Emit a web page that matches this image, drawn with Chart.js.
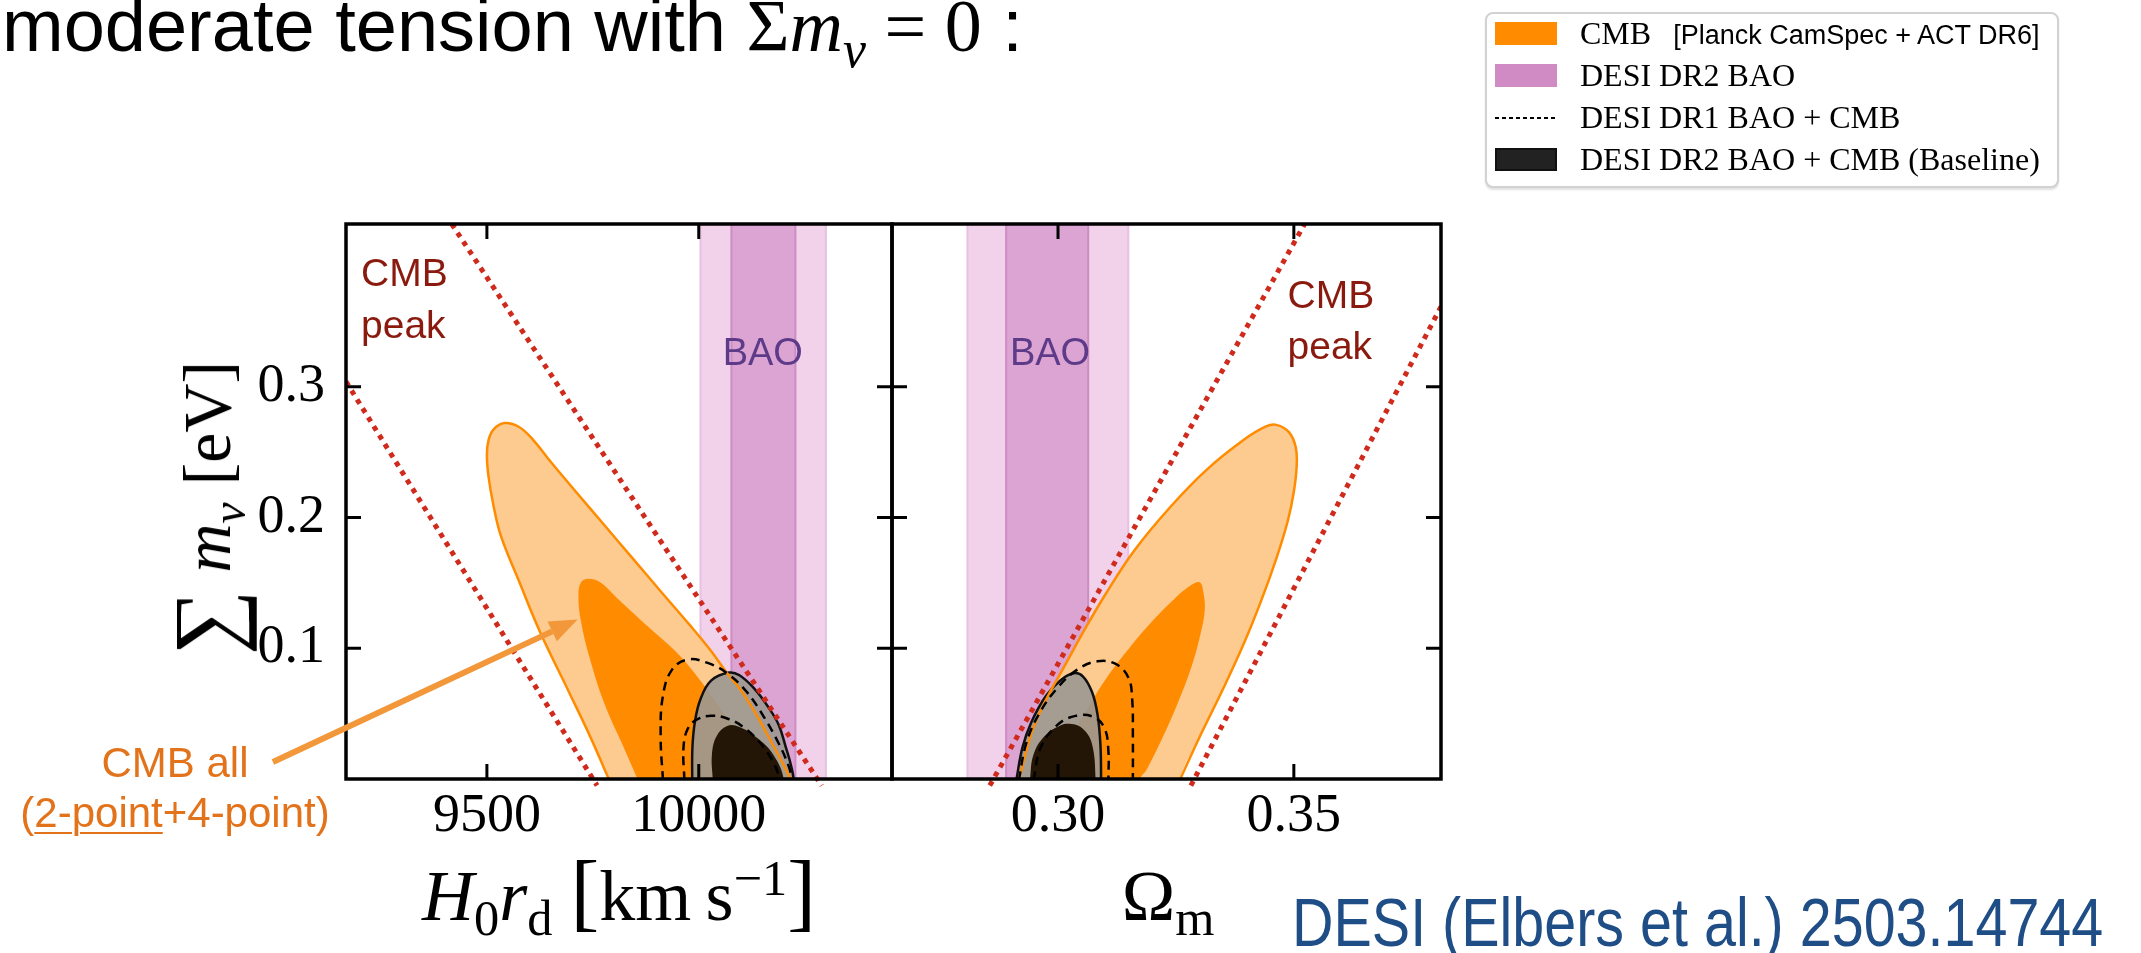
<!DOCTYPE html>
<html>
<head>
<meta charset="utf-8">
<title>Sum of neutrino masses: CMB vs DESI BAO</title>
<script src="https://cdn.jsdelivr.net/npm/chart.js"></script>
<style>
  html, body { margin: 0; padding: 0; background: #fff; }
  #page { position: relative; width: 2141px; height: 953px; overflow: hidden; background: #fff; }
  canvas { position: absolute; left: 0; top: 0; }
  .t { position: absolute; white-space: nowrap; line-height: 1; }
  .cm { font-family: "Liberation Serif", "DejaVu Serif", serif; }
  .sans { font-family: "Liberation Sans", Arial, sans-serif; }
  sub, sup { font-size: 0.7em; line-height: 0; }
  .big { font-size: 1.35em; line-height: 0; vertical-align: -0.08em; }
  #legend { position: absolute; left: 1485px; top: 12px; width: 574px; height: 176px; box-sizing: border-box;
            border: 2px solid #d2d2d2; border-radius: 8px; box-shadow: 0 2px 2px rgba(0,0,0,0.12); background: #fff; }
  .sw { position: absolute; left: 1495px; width: 62px; height: 23px; box-sizing: border-box; }
  .dash { position: absolute; left: 1495px; width: 62px; height: 2px;
          background: repeating-linear-gradient(to right, #000 0 4px, transparent 4px 7px); }
  .note { color: #e3731b; font-size: 42px; transform: translateX(-50%); }
</style>
</head>
<body>
<div id="page">
  <canvas id="left" width="2141" height="953"></canvas>
  <canvas id="right" width="2141" height="953"></canvas>

  <div class="t sans" style="left:2px; top:-11px; font-size:74px;">moderate tension with <span class="cm">Σ<i>m</i><sub><i>ν</i></sub> = 0</span> :</div>

  <!-- legend -->
  <div id="legend"></div>
  <div class="sw" style="top:22px; background:#ff8c00;"></div>
  <div class="t cm" style="left:1580px; top:17px; font-size:32px;">CMB<span class="sans" style="font-size:27px; margin-left:22px;">[Planck CamSpec + ACT DR6]</span></div>
  <div class="sw" style="top:64px; background:#d18bc4;"></div>
  <div class="t cm" style="left:1580px; top:59px; font-size:32px;">DESI DR2 BAO</div>
  <div class="dash" style="top:117px;"></div>
  <div class="t cm" style="left:1580px; top:101px; font-size:32px;">DESI DR1 BAO + CMB</div>
  <div class="sw" style="top:148px; background:#222; border:2px solid #111;"></div>
  <div class="t cm" style="left:1580px; top:143px; font-size:32px;">DESI DR2 BAO + CMB (Baseline)</div>

  <!-- axis titles -->
  <div class="t cm" style="left:207px; top:508px; font-size:68px; transform:translate(-50%,-50%) rotate(-90deg);"><span class="big">∑</span> <i>m</i><sub><i>ν</i></sub> [eV]</div>
  <div class="t cm" style="left:619px; top:860px; font-size:72px; transform:translateX(-50%);"><i>H</i><sub>0</sub><i>r</i><sub>d</sub> <span style="font-size:1.2em; line-height:0;">[</span>km&thinsp;s<sup>−1</sup><span style="font-size:1.2em; line-height:0;">]</span></div>
  <div class="t cm" style="left:1168px; top:860px; font-size:72px; transform:translateX(-50%);">Ω<sub>m</sub></div>

  <!-- annotations -->
  <div class="t sans note" style="left:175px; top:742px;">CMB all</div>
  <div class="t sans note" style="left:175px; top:792px;">(<span style="text-decoration:underline; text-decoration-thickness:2px; text-underline-offset:5px;">2-point</span>+4-point)</div>
  <div class="t sans" style="left:1292px; top:888px; font-size:68px; color:#1f4d86; transform:scaleX(0.845); transform-origin:left top;">DESI (Elbers et al.) 2503.14744</div>
</div>

<script>
// axis ranges and ticks
const mnuRange = [0, 0.4246];
const h0rdRange = [9167.5, 10456];
const omRange = [0.2648, 0.3812];
const mnuTicks = [0.1, 0.2, 0.3];
const h0rdTicks = [9500, 10000];
const omTicks = [0.30, 0.35];

// DESI DR2 BAO bands (2 sigma / 1 sigma)
const baoH0rd2s = [10004, 10300];
const baoH0rd1s = [10077, 10228];
const baoOm2s = [0.2808, 0.3149];
const baoOm1s = [0.2890, 0.3064];

// CMB peak degeneracy lines
const peakH0rdA = [[9167.5, 0.304], [9760, -0.005]];
const peakH0rdB = [[9417, 0.4246], [10290, -0.005]];
const peakOmA = [[0.28553, -0.005], [0.35228, 0.4246]];
const peakOmB = [[0.32817, -0.005], [0.3812, 0.3614]];

// H0rd vs sum mnu contours
const cmbH0rd2s = [[9789,-0.001],[9743,0.033],[9693,0.067],[9626,0.112],[9575,0.152],[9533,0.186],[9516,0.2085],[9504,0.231],[9500,0.248],[9504,0.2595],[9516,0.2675],[9541,0.2723],[9575,0.2695],[9609,0.2595],[9651,0.2425],[9710,0.2198],[9777,0.1943],[9844,0.1688],[9911,0.1433],[9979,0.1177],[10029,0.0979],[10067,0.0809],[10096,0.0695],[10130,0.0525],[10164,0.0327],[10197,0.0128],[10218,-0.001]];
const cmbH0rd1s = [[9857,-0.001],[9819,0.027],[9777,0.058],[9743,0.092],[9722,0.1206],[9716,0.1404],[9722,0.1504],[9739,0.1532],[9768,0.1504],[9810,0.1376],[9886,0.1149],[9953,0.0951],[10004,0.0752],[10054,0.0525],[10105,0.027],[10147,-0.001]];
const dr2H0rd2s = [[9984.5,-0.001],[9985,0.0242],[9991,0.044],[10004,0.061],[10029,0.0752],[10071,0.0814],[10096,0.0794],[10130,0.0695],[10163.5,0.0553],[10189,0.0412],[10205.5,0.0242],[10218,0.01],[10224,-0.001]];
const dr2H0rd1s = [[10033,-0.001],[10031,0.0185],[10042,0.0327],[10067,0.0406],[10096,0.0398],[10138,0.0313],[10176,0.0185],[10201,-0.001]];
const dr1H0rd2s = [[9915.5,-0.001],[9910,0.0327],[9915.5,0.0639],[9937,0.0837],[9974,0.0914],[10021,0.0888],[10067,0.0809],[10113,0.0667],[10155,0.0468],[10189,0.027],[10212,0.01],[10221,-0.001]];
const dr1H0rd1s = [[9966,-0.001],[9964,0.0242],[9974,0.0384],[9995,0.0454],[10029,0.0483],[10067,0.0463],[10105,0.0398],[10142.5,0.0285],[10176,0.0128],[10193,-0.001]];

// Omega_m vs sum mnu contours
const cmbOm2s = [[0.2917,-0.001],[0.2944,0.0355],[0.2975,0.061],[0.3014,0.0865],[0.3053,0.1121],[0.3099,0.1404],[0.3161,0.1745],[0.3239,0.2085],[0.3316,0.2369],[0.3394,0.2595],[0.3440,0.2695],[0.3463,0.2709],[0.3490,0.2652],[0.3504,0.2539],[0.3506,0.2397],[0.3500,0.2198],[0.3487,0.1972],[0.3463,0.1688],[0.3432,0.1376],[0.3394,0.1036],[0.3347,0.0667],[0.3301,0.0327],[0.3258,-0.001]];
const cmbOm1s = [[0.2967,-0.001],[0.2983,0.0072],[0.3022,0.0298],[0.3060,0.0525],[0.3099,0.0752],[0.3146,0.0979],[0.3192,0.1177],[0.3246,0.1376],[0.3285,0.1489],[0.3301,0.1504],[0.3308,0.1433],[0.3311,0.1291],[0.3301,0.1092],[0.3281,0.0837],[0.3254,0.0582],[0.3223,0.0327],[0.3188,0.0072],[0.3173,-0.001]];
const dr2Om2s = [[0.29115,-0.001],[0.29247,0.0242],[0.29441,0.044],[0.29751,0.0639],[0.30061,0.0758],[0.30332,0.0809],[0.30526,0.0786],[0.30719,0.0667],[0.30836,0.0497],[0.30898,0.027],[0.30913,-0.001]];
const dr2Om1s = [[0.29402,-0.001],[0.29479,0.0185],[0.29712,0.0327],[0.30061,0.0412],[0.30293,0.042],[0.30526,0.0384],[0.30719,0.027],[0.30797,-0.001]];
const dr1Om2s = [[0.29169,-0.001],[0.29324,0.027],[0.29596,0.0497],[0.29983,0.0695],[0.30409,0.0837],[0.30836,0.09],[0.31223,0.088],[0.31494,0.0775],[0.31572,0.061],[0.31587,0.0327],[0.31587,-0.001]];
const dr1Om1s = [[0.29479,-0.001],[0.29634,0.0242],[0.29983,0.0412],[0.30371,0.0483],[0.30758,0.0474],[0.30991,0.0384],[0.31068,0.0213],[0.31068,-0.001]];

const colors = {
  cmbLight: "#fdca90", cmb: "#ff8c00",
  baoLight: "#f1d2ea", baoDark: "#dba4d3", baoEdgeLight: "#e8c0e1", baoEdgeDark: "#cd8cc4",
  grey: "rgba(156,152,146,0.9)", dark: "#241606", peak: "#cf2a1c", none: "rgba(0,0,0,0)"
};

function pts(a) { return a.map(p => ({ x: p[0], y: p[1] })); }
// close a contour below the bottom edge so it gets clipped there
function closed(a) {
  const f = a[0], l = a[a.length - 1];
  return pts(a.concat([[l[0], -0.03], [f[0], -0.03]]));
}
function band(r) { return pts([[r[0], -0.05], [r[0], 0.5], [r[1], 0.5], [r[1], -0.05]]); }

function buildDatasets(p) {
  const list = [
    { data: band(p.bao2), backgroundColor: colors.baoLight, borderColor: colors.baoEdgeLight, borderWidth: 2, fill: "shape", tension: 0, order: 20 },
    { data: band(p.bao1), backgroundColor: colors.baoDark, borderColor: colors.baoEdgeDark, borderWidth: 2, fill: "shape", tension: 0, order: 19 },
    { data: closed(p.cmb2), backgroundColor: colors.cmbLight, borderColor: colors.none, fill: "shape", tension: 0.4, order: 18 },
    { data: closed(p.cmb1), backgroundColor: colors.cmb, borderColor: colors.none, fill: "shape", tension: 0.4, order: 17 },
    { data: closed(p.dr22), backgroundColor: colors.grey, borderColor: "#111", borderWidth: 2.5, fill: "shape", tension: 0.4, order: 16 },
    { data: closed(p.dr21), backgroundColor: colors.dark, borderColor: colors.none, fill: "shape", tension: 0.4, order: 15 },
    { data: pts(p.cmb2), borderColor: colors.cmb, borderWidth: 2.5, fill: false, tension: 0.4, order: 14 },
    { data: pts(p.dr12), borderColor: "#000", borderWidth: 2.5, borderDash: [9, 6], fill: false, tension: 0.4, order: 13 },
    { data: pts(p.dr11), borderColor: "#000", borderWidth: 2.5, borderDash: [9, 6], fill: false, tension: 0.4, order: 12 },
    { data: pts(p.peakA), borderColor: colors.peak, borderWidth: 5, borderDash: [5, 5.5], fill: false, tension: 0, order: 11, clip: { left: 0, top: 0, right: 0, bottom: 8 } },
    { data: pts(p.peakB), borderColor: colors.peak, borderWidth: 5, borderDash: [5, 5.5], fill: false, tension: 0, order: 10, clip: { left: 0, top: 0, right: 0, bottom: 8 } }
  ];
  return list.map(d => Object.assign({ showLine: true, pointRadius: 0, pointHoverRadius: 0, backgroundColor: colors.none }, d));
}

// frame with inward ticks, in-plot labels, arrow
function makeDecor(cfg) {
  return {
    id: "decor",
    afterDatasetsDraw(chart) {
      const { ctx, chartArea: a, scales: { x, y } } = chart;
      ctx.save();
      ctx.strokeStyle = "#000";
      ctx.lineWidth = 3;
      ctx.beginPath();
      x.ticks.forEach(t => {
        const px = x.getPixelForValue(t.value);
        ctx.moveTo(px, a.bottom); ctx.lineTo(px, a.bottom - 15);
        ctx.moveTo(px, a.top); ctx.lineTo(px, a.top + 15);
      });
      y.ticks.forEach(t => {
        const py = y.getPixelForValue(t.value);
        ctx.moveTo(a.left, py); ctx.lineTo(a.left + 15, py);
        ctx.moveTo(a.right, py); ctx.lineTo(a.right - 15, py);
      });
      ctx.stroke();
      ctx.lineWidth = 3.5;
      ctx.strokeRect(a.left, a.top, a.right - a.left, a.bottom - a.top);

      cfg.texts.forEach(s => {
        ctx.font = s.size + "px 'Liberation Sans', Arial, sans-serif";
        ctx.fillStyle = s.color;
        ctx.textAlign = s.align || "left";
        ctx.textBaseline = s.baseline || "alphabetic";
        ctx.fillText(s.text, x.getPixelForValue(s.x), y.getPixelForValue(s.y));
      });

      if (cfg.arrow) {
        const x0 = x.getPixelForValue(cfg.arrow.from[0]), y0 = y.getPixelForValue(cfg.arrow.from[1]);
        const x1 = x.getPixelForValue(cfg.arrow.to[0]), y1 = y.getPixelForValue(cfg.arrow.to[1]);
        const ang = Math.atan2(y1 - y0, x1 - x0), hl = 28, hw = 11;
        const bx = x1 - hl * Math.cos(ang), by = y1 - hl * Math.sin(ang);
        ctx.strokeStyle = "#f2973a";
        ctx.fillStyle = "#f2973a";
        ctx.lineWidth = 6;
        ctx.beginPath(); ctx.moveTo(x0, y0); ctx.lineTo(bx, by); ctx.stroke();
        ctx.beginPath();
        ctx.moveTo(x1, y1);
        ctx.lineTo(bx + hw * Math.sin(ang), by - hw * Math.cos(ang));
        ctx.lineTo(bx - hw * Math.sin(ang), by + hw * Math.cos(ang));
        ctx.closePath(); ctx.fill();
      }
      ctx.restore();
    }
  };
}

const tickFont = { family: "'Liberation Serif', 'DejaVu Serif', serif", size: 54 };

function panel(id, opt) {
  new Chart(document.getElementById(id), {
    type: "scatter",
    data: { datasets: buildDatasets(opt.data) },
    options: {
      responsive: false,
      animation: false,
      events: [],
      layout: { padding: { top: 224, right: 2141 - opt.right, left: 0, bottom: 0 } },
      plugins: { legend: { display: false }, tooltip: { enabled: false }, colors: { enabled: false } },
      scales: {
        x: {
          type: "linear", min: opt.xRange[0], max: opt.xRange[1],
          grid: { display: false, drawTicks: false }, border: { display: false },
          afterBuildTicks: s => { s.ticks = opt.xTicks.map(v => ({ value: v })); },
          afterFit: s => { s.height = 953 - 779; },
          ticks: { autoSkip: false, maxRotation: 0, minRotation: 0, padding: 5, color: "#000", font: tickFont, callback: opt.xFormat }
        },
        y: {
          type: "linear", min: mnuRange[0], max: mnuRange[1],
          grid: { display: false, drawTicks: false }, border: { display: false },
          afterBuildTicks: s => { s.ticks = mnuTicks.map(v => ({ value: v })); },
          afterFit: s => { s.width = opt.left; },
          ticks: { display: opt.showY, padding: 21, color: "#000", font: tickFont, callback: v => v.toFixed(1) }
        }
      }
    },
    plugins: [makeDecor(opt.decor)]
  });
}

panel("left", {
  left: 346, right: 892, xRange: h0rdRange, xTicks: h0rdTicks, showY: true,
  xFormat: v => String(v),
  data: { bao2: baoH0rd2s, bao1: baoH0rd1s, cmb2: cmbH0rd2s, cmb1: cmbH0rd1s, dr22: dr2H0rd2s, dr21: dr2H0rd1s,
          dr12: dr1H0rd2s, dr11: dr1H0rd1s, peakA: peakH0rdA, peakB: peakH0rdB },
  decor: {
    texts: [
      { text: "CMB", x: 9203, y: 0.3772, size: 39, color: "#8a1a0e" },
      { text: "peak", x: 9203, y: 0.3375, size: 39, color: "#8a1a0e" },
      { text: "BAO", x: 10151, y: 0.3248, size: 38, color: "#5e3b88", align: "center", baseline: "middle" }
    ],
    arrow: { from: [8995, 0.013], to: [9714, 0.122] }
  }
});

panel("right", {
  left: 892, right: 1441, xRange: omRange, xTicks: omTicks, showY: false,
  xFormat: v => v.toFixed(2),
  data: { bao2: baoOm2s, bao1: baoOm1s, cmb2: cmbOm2s, cmb1: cmbOm1s, dr22: dr2Om2s, dr21: dr2Om1s,
          dr12: dr1Om2s, dr11: dr1Om1s, peakA: peakOmA, peakB: peakOmB },
  decor: {
    texts: [
      { text: "CMB", x: 0.34866, y: 0.3602, size: 39, color: "#8a1a0e" },
      { text: "peak", x: 0.34866, y: 0.321, size: 39, color: "#8a1a0e" },
      { text: "BAO", x: 0.2983, y: 0.3248, size: 38, color: "#5e3b88", align: "center", baseline: "middle" }
    ]
  }
});
</script>
</body>
</html>
